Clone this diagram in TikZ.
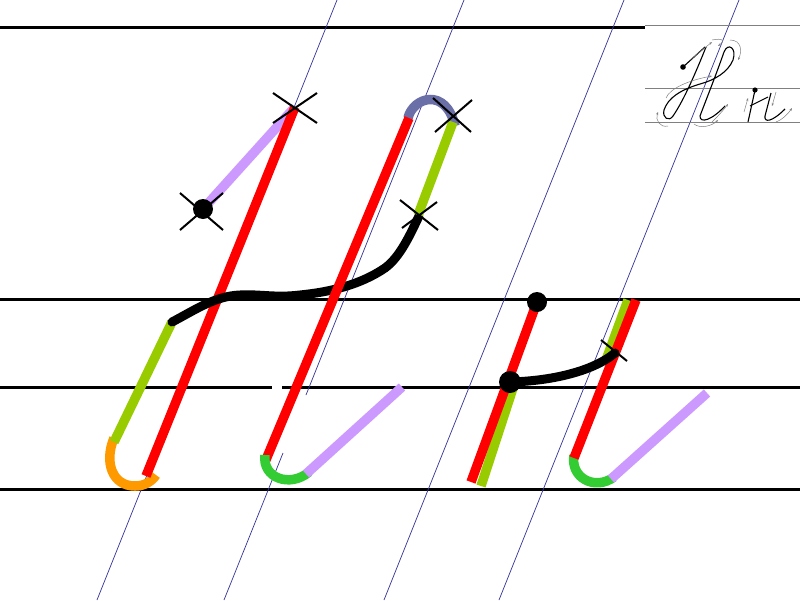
\documentclass[tikz,border=0pt]{standalone}
\usetikzlibrary{arrows.meta}
\definecolor{cred}{HTML}{FF0000}
\definecolor{clav}{HTML}{CC99FF}
\definecolor{colive}{HTML}{99CC00}
\definecolor{corange}{HTML}{FF9900}
\definecolor{cgreen}{HTML}{33CC33}
\definecolor{cslate}{HTML}{6B6FA8}
\definecolor{cblue}{HTML}{333399}
\tikzset{
  ruling/.style={line width=3pt, black},
  slant/.style={line width=0.7pt, cblue},
  stroke/.style={line width=9.5pt},
  pen/.style={line width=9pt, black, line cap=round},
  cross/.style={line width=2pt, black},
  dotmark/.style={fill=black},
  thumbline/.style={line width=0.9pt, gray},
  thumbpen/.style={line width=1.1pt, black},
  thumbarrow/.style={line width=0.5pt, gray, -{Stealth[length=3pt]}},
}
\begin{document}
\begin{tikzpicture}[x=1pt,y=-1pt]
\useasboundingbox[fill=white] (0,0) rectangle (800,600);
% rulings
\draw[ruling] (0,27) -- (645,27);
\draw[ruling] (0,299) -- (800,299);
\draw[ruling] (0,387) -- (272,387);
\draw[ruling] (282,387) -- (800,387);
\draw[ruling] (0,489) -- (800,489);
% slant guide lines
\draw[slant] (337,0) -- (97,600);
\draw[slant] (464,0) -- (306,395);
\draw[slant] (283,453) -- (224,600);
\draw[slant] (624,0) -- (384,600);
\draw[slant] (739,0) -- (499,600);

% ===== capital letter =====
\draw[stroke, clav] (203,209) -- (295,107);
\draw[stroke, corange] (114,438) .. controls (104,462) and (112,486) .. (135,486) .. controls (145,486) and (152,481) .. (156,475);
\draw[stroke, colive] (172,322) -- (114,442);
\draw[stroke, cred] (295,107) -- (146,476);
\draw[pen] (172,322) .. controls (195,310) and (215,296) .. (240,295)
  .. controls (262,294) and (275,298) .. (300,295)
  .. controls (330,292) and (360,285) .. (385,268)
  .. controls (400,257) and (410,235) .. (419,216);
\draw[stroke, cslate] (408,118) .. controls (413,97) and (446,87) .. (455,126);
\draw[stroke, cred] (409,118) -- (265,462);
\draw[stroke, colive] (453,122) -- (418,215);
\draw[stroke, cgreen] (265,455) .. controls (262,478) and (290,488) .. (309,472);
\draw[stroke, clav] (306,474) -- (402,387);
% crosses
\draw[cross] (273,93) -- (317,123) (273,123) -- (317,93);
\draw[cross] (180,193) -- (223,230) (180,230) -- (223,193);
\draw[cross] (433,98) -- (471,132) (435,132) -- (472,100);
\draw[cross] (400,200) -- (438,230) (402,228) -- (437,202);
\fill[dotmark] (203,209) circle (10);

% ===== small letter =====
\draw[stroke, colive] (514,385) -- (481,486);
\draw[stroke, cred] (537,302) -- (471,482);
\draw[stroke, colive] (628,300) -- (606,360);
\draw[stroke, cgreen] (574,455) .. controls (570,478) and (595,491) .. (614,477);
\draw[stroke, cred] (636,300) -- (574,458);
\draw[stroke, clav] (611,479) -- (707,393);
\draw[pen] (510,382) .. controls (550,381) and (592,372) .. (615,353);
\draw[cross] (601,340) -- (627,361);
\fill[dotmark] (537,302) circle (10);
\fill[dotmark] (510,382) circle (11);

% ===== sample in corner =====
\draw[thumbline] (645,25) -- (800,25);
\draw[thumbline] (645,88) -- (800,88);
\draw[thumbline] (645,122) -- (800,122);
\fill (683,67) circle (2.8);
\draw[thumbpen] (683,67) -- (705,47);
\draw[thumbpen] (706,47) .. controls (696,72) and (684,100) .. (673,116)
  .. controls (669,122) and (662,118) .. (664,110)
  .. controls (668,98) and (680,90) .. (700,84)
  .. controls (715,80) and (728,72) .. (733,60)
  .. controls (737,48) and (728,42) .. (724,52)
  .. controls (716,75) and (706,100) .. (700,116)
  .. controls (700,124) and (712,120) .. (725,106);
\draw[thumbarrow] (690,60) -- (712,42);
\draw[thumbarrow] (712,40) .. controls (722,38) and (726,40) .. (718,46);
\draw[thumbarrow] (666,98) .. controls (670,88) and (690,80) .. (712,76);
\draw[thumbarrow] (668,126) .. controls (660,128) and (655,120) .. (658,112);
\draw[thumbarrow] (730,40) .. controls (742,40) and (742,52) .. (738,60);
\draw[thumbarrow] (694,124) .. controls (700,129) and (712,126) .. (718,120);
\draw[thumbarrow] (712,122) .. controls (716,118) and (722,112) .. (728,104);
\fill (755,90) circle (2.6);
\draw[thumbpen] (755,90) -- (748,122);
\draw[thumbpen] (750,106) .. controls (756,103) and (762,100) .. (768,97);
\draw[thumbpen] (771,93) -- (765,116) .. controls (764,123) and (772,122) .. (785,109);
\draw[thumbarrow] (744,112) -- (748,98);
\draw[thumbarrow] (776,92) -- (772,106);
\draw[thumbarrow] (776,122) .. controls (782,120) and (788,114) .. (792,108);
\end{tikzpicture}
\end{document}
